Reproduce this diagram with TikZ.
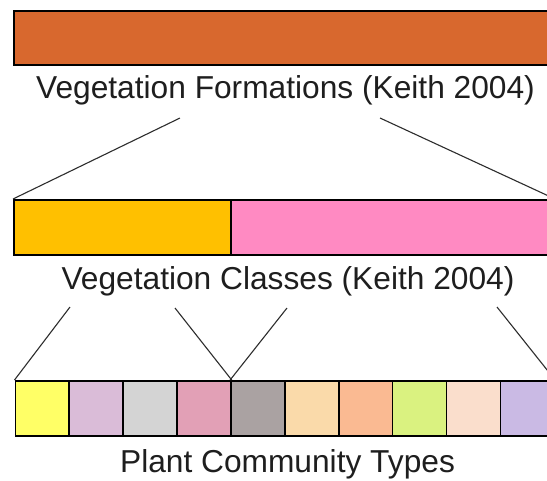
\documentclass[tikz,border=0pt]{standalone}
\usepackage{fontspec}
\setmainfont{Liberation Sans}
\definecolor{formation}{RGB}{216,104,46}
\definecolor{classA}{RGB}{255,192,0}
\definecolor{classB}{RGB}{255,138,194}
\definecolor{pA}{RGB}{255,255,102}
\definecolor{pB}{RGB}{218,188,216}
\definecolor{pC}{RGB}{212,212,212}
\definecolor{pD}{RGB}{226,160,182}
\definecolor{pE}{RGB}{170,162,162}
\definecolor{pF}{RGB}{250,218,170}
\definecolor{pG}{RGB}{250,186,146}
\definecolor{pH}{RGB}{218,242,128}
\definecolor{pI}{RGB}{250,222,204}
\definecolor{pJ}{RGB}{202,186,228}
\definecolor{txt}{RGB}{30,30,30}
\definecolor{conn}{RGB}{45,45,45}
\tikzset{
  blk/.style={draw=black, line width=1.6pt, rectangle, inner sep=0pt, anchor=north west},
  lbl/.style={text=txt, inner sep=0pt, anchor=base, font=\fontsize{31.7}{36}\selectfont},
  link/.style={draw=conn, line width=1.1pt},
}
\begin{document}
\begin{tikzpicture}[x=1pt,y=-1pt]
\clip (0,0) rectangle (547,480);
\fill[white] (0,0) rectangle (547,480);
% formations
\node[blk, fill=formation, minimum width=540pt, minimum height=54pt] (form) at (13,10) {};
\node[lbl] (formlbl) at (285.5,98.5) {Vegetation Formations (Keith 2004)};
% classes
\node[blk, fill=classA, minimum width=217pt, minimum height=55pt] (clsA) at (13,199) {};
\node[blk, fill=classB, minimum width=323.5pt, minimum height=55pt] (clsB) at (230,199) {};
\node[lbl] (clslbl) at (288,289) {Vegetation Classes (Keith 2004)};
% plant community types
\foreach \c [count=\i from 0] in {pA,pB,pC,pD,pE,pF,pG,pH,pI,pJ}{
  \node[blk, fill=\c, minimum width=53.9pt, minimum height=55pt] (t\i) at ({14.5+53.9*\i},380) {};
}
\node[lbl] (pctlbl) at (287.5,472) {Plant Community Types};
% connectors
\coordinate (f1) at (180,118);
\coordinate (f2) at (380,118);
\coordinate (c1) at (70,307);
\coordinate (c2) at (175,308);
\coordinate (c3) at (287,308);
\coordinate (c4) at (497,307);
\draw[link] (f1) -- (clsA.north west);
\draw[link] (f2) -- (clsB.north east);
\draw[link] (c1) -- (t0.north west);
\draw[link] (c2) -- (t3.north east);
\draw[link] (c3) -- (t4.north west);
\draw[link] (c4) -- (t9.north east);
\end{tikzpicture}
\end{document}
